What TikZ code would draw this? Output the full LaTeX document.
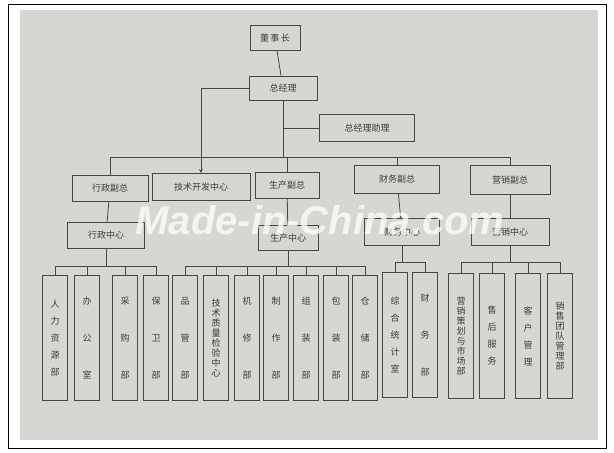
\documentclass[tikz,border=0pt]{standalone}
\usepackage{fontspec}
\usepackage{xcolor}
\usepackage{tikz}
\newfontfamily\cjk{Noto Sans CJK SC}
\newfontfamily\wmfont{Liberation Sans}
\definecolor{photo}{RGB}{214,214,211}
\definecolor{ink}{RGB}{70,70,70}
\definecolor{txt}{RGB}{60,60,60}

\begin{document}
\begin{tikzpicture}[x=1pt,y=-1pt,
  box/.style={draw=ink,line width=0.9pt,fill=photo,text=txt,font=\cjk\fontsize{9}{11}\selectfont,inner sep=2pt},
  col/.style={box,minimum width=25,minimum height=125,text width=10,align=center,inner sep=1pt},
  link/.style={draw=ink,line width=0.8pt}]
\useasboundingbox (0,0) rectangle (614,453);
\draw[line width=0.6pt] (8,4) rectangle (606,448);
\fill[photo] (20,10) rectangle (598,440);
% top
\node[box,minimum width=50,minimum height=25](dsz)at(275,38){董\,事\,长};
\node[box,minimum width=68,minimum height=24](zjl)at(283,88){总经理};
\node[box,minimum width=95,minimum height=27](zl)at(367,128){总经理助理};
% second level
\node[box,minimum width=76,minimum height=26](xzfz)at(110,188){行政副总};
\node[box,minimum width=98,minimum height=27](jskf)at(201,187){技术开发中心};
\node[box,minimum width=64,minimum height=26](scfz)at(287,185){生产副总};
\node[box,minimum width=85,minimum height=28](cwfz)at(397,179){财务副总};
\node[box,minimum width=80,minimum height=29](yxfz)at(510,180){营销副总};
% centres
\node[box,minimum width=77,minimum height=26](xzzx)at(106,235){行政中心};
\node[box,minimum width=60,minimum height=25](sczx)at(288,238){生产中心};
\node[box,minimum width=75,minimum height=27](cwzx)at(402,232){财务中心};
\node[box,minimum width=78,minimum height=27](yxzx)at(510,232){营销中心};
% columns
\foreach \n/\x/\t in {1/55/{人\\[6pt]力\\[6pt]资\\[6pt]源\\[6pt]部},2/87/{办\\[26pt]公\\[26pt]室},
  3/125/{采\\[26pt]购\\[26pt]部},4/156/{保\\[26pt]卫\\[26pt]部}}
  \node[col](a\n)at(\x,338){\t};
\foreach \n/\x/\t in {1/185/{品\\[26pt]管\\[26pt]部},2/216/{技\\[-1pt]术\\[-1pt]质\\[-1pt]量\\[-1pt]检\\[-1pt]验\\[-1pt]中\\[-1pt]心},
  3/247/{机\\[26pt]修\\[26pt]部},4/276/{制\\[26pt]作\\[26pt]部},5/306/{组\\[26pt]装\\[26pt]部},
  6/336/{包\\[26pt]装\\[26pt]部},7/365/{仓\\[26pt]储\\[26pt]部}}
  \node[col](p\n)at(\x,338){\t};
\foreach \n/\x/\t in {1/395/{综\\[6pt]合\\[6pt]统\\[6pt]计\\[6pt]室},2/425/{财\\[26pt]务\\[26pt]部}}
  \node[col](f\n)at(\x,335){\t};
\foreach \n/\x/\t in {1/461/{营\\[-1pt]销\\[-1pt]策\\[-1pt]划\\[-1pt]与\\[-1pt]市\\[-1pt]场\\[-1pt]部},2/492/{售\\[6pt]后\\[6pt]服\\[6pt]务},
  3/528/{客\\[6pt]户\\[6pt]管\\[6pt]理},4/560/{销\\[-1pt]售\\[-1pt]团\\[-1pt]队\\[-1pt]管\\[-1pt]理\\[-1pt]部}}
  \node[col](m\n)at(\x,336){\t};
% connectors
\coordinate(busM)at(0,157);
\coordinate(busA)at(0,266);
\coordinate(busB)at(0,262);
\draw[link](dsz)--(zjl);
\draw[link](zjl.south)|-(zl.west);
\draw[link,-stealth](zjl.west)-|(jskf.north);
\foreach \v in {xzfz,scfz,cwfz,yxfz}\draw[link](zjl.south)|-(\v.north|-busM)--(\v.north);
\draw[link](xzfz)--(xzzx);
\draw[link](scfz)--(sczx);
\draw[link](cwfz)--(cwzx);
\draw[link](yxfz)--(yxzx);
\foreach \b in {a1,a2,a3,a4}\draw[link](xzzx.south)|-(\b.north|-busA)--(\b.north);
\foreach \b in {p1,p2,p3,p4,p5,p6,p7}\draw[link](sczx.south)|-(\b.north|-busA)--(\b.north);
\foreach \b in {f1,f2}\draw[link](cwzx.south)|-(\b.north|-busB)--(\b.north);
\foreach \b in {m1,m2,m3,m4}\draw[link](yxzx.south)|-(\b.north|-busB)--(\b.north);
% watermark
\node[text=white,opacity=0.75,font=\wmfont\bfseries\itshape\fontsize{40}{40}\selectfont](wm)at(320,220){Made-in-China.com};
\end{tikzpicture}
\end{document}
